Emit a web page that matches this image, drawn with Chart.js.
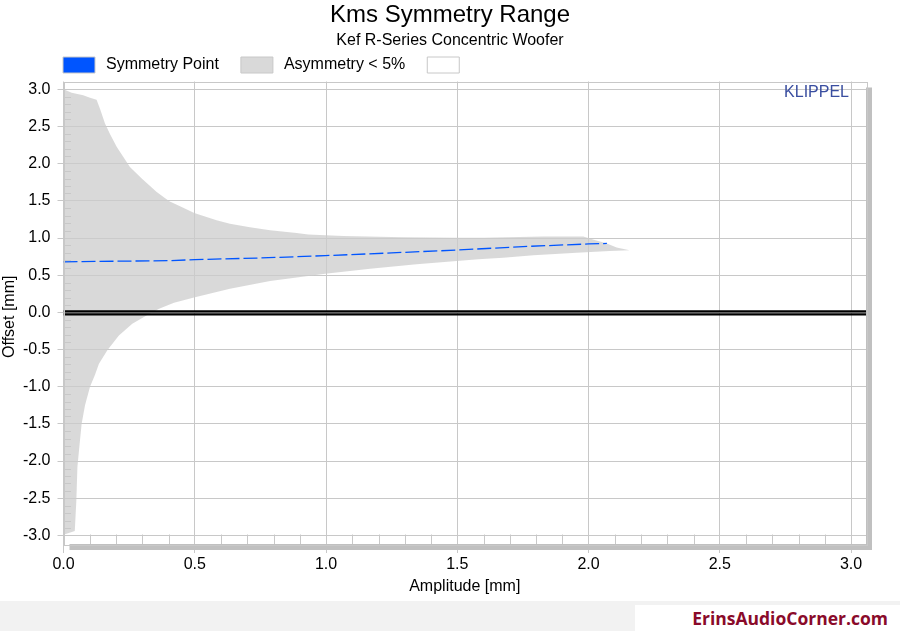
<!DOCTYPE html>
<html><head><meta charset="utf-8">
<style>
html,body{margin:0;padding:0;background:#fff;width:900px;height:631px;overflow:hidden}
canvas{position:absolute;left:0;top:0}
#band{position:absolute;left:0;top:601px;width:900px;height:30px;background:#f2f2f2}
#brand{position:absolute;left:635px;top:605px;width:265px;height:26px;background:#fff;color:#8a0a2a;font:bold 17.5px "Open Sans",sans-serif;text-align:right;box-sizing:border-box;padding-right:12px;line-height:26px}
</style></head><body>
<div id="band"></div><div id="brand">ErinsAudioCorner.com</div>
<canvas id="c" width="900" height="631"></canvas>
<script src="https://cdn.jsdelivr.net/npm/chart.js@4"></script>
<script>
const titleText='Kms Symmetry Range';
const subtitleText='Kef R-Series Concentric Woofer';
const xTitle='Amplitude [mm]';
const yTitle='Offset [mm]';
const watermark='KLIPPEL';
const legendNames=['Symmetry Point','Asymmetry < 5%',''];
const legendFills=['#0055ff','#d9d9d9','#ffffff'];
const upperAmp=[0,0.031,0.075,0.101,0.126,0.139,0.158,0.177,0.203,0.228,0.253,0.298,0.355,0.403,0.45,0.498,0.583,0.634,0.71,0.787,0.888,0.932,1.066,1.294,1.498,1.6,1.828,1.98,2.02,2.07,2.107,2.156];
const upperOffset=[3.0,2.955,2.92,2.888,2.86,2.74,2.54,2.4,2.224,2.09,1.955,1.8,1.62,1.493,1.417,1.336,1.238,1.193,1.145,1.103,1.066,1.049,1.027,1.009,1.005,1.005,1.022,1.022,0.978,0.927,0.874,0.834];
const lowerAmp=[2.08,1.955,1.79,1.675,1.58,1.498,1.345,1.168,0.997,0.932,0.787,0.634,0.497,0.421,0.364,0.313,0.262,0.211,0.167,0.135,0.12,0.101,0.082,0.069,0.059,0.053,0.049,0.045,0.043,0];
const lowerOffset=[0.825,0.803,0.767,0.736,0.713,0.69,0.646,0.588,0.52,0.488,0.421,0.319,0.2,0.13,0.05,-0.05,-0.152,-0.31,-0.511,-0.69,-0.838,-1.0,-1.25,-1.5,-1.857,-2.08,-2.53,-2.8,-2.94,-2.99];
const symAmp=[0,0.25,0.405,0.5,0.736,0.997,1.25,1.498,1.75,2.0,2.07];
const symOffset=[0.68,0.69,0.695,0.71,0.73,0.763,0.8,0.838,0.885,0.92,0.927];
const zeroAmp=[0,3.057];
const zeroUpper=[0.014,0.014];
const zeroLower=[-0.027,-0.027];
const minorY=[-2.9,-2.8,-2.7,-2.6,-2.4,-2.3,-2.2,-2.1,-1.9,-1.8,-1.7,-1.6,-1.4,-1.3,-1.2,-1.1,-0.9,-0.8,-0.7,-0.6,-0.4,-0.3,-0.2,-0.1,0.1,0.2,0.3,0.4,0.6,0.7,0.8,0.9,1.1,1.2,1.3,1.4,1.6,1.7,1.8,1.9,2.1,2.2,2.3,2.4,2.6,2.7,2.8,2.9];
const minorX=[0.1,0.2,0.3,0.4,0.6,0.7,0.8,0.9,1.1,1.2,1.3,1.4,1.6,1.7,1.8,1.9,2.1,2.2,2.3,2.4,2.6,2.7,2.8,2.9];
const pts=(a,b)=>a.map((x,i)=>({x,y:b[i]}));
const GRID='#c8c8c8',SHADOW='#c0c0c0',FONT='"Liberation Sans",Arial,sans-serif';

const deco={
 id:'deco',
 beforeLayout(c){
  const l=c.legend;
  if(l&&!l._wrapped){
   const o=l.fit;
   l.fit=function(){o.call(this);this.height=31.5;};
   const d=l.draw;
   l.draw=function(){
    const g=c.ctx,ft=g.fillText;
    g.fillText=function(t,x,y,m){return m===undefined?ft.call(g,t,x+3,y):ft.call(g,t,x+3,y,m);};
    d.apply(this,arguments);
    delete g.fillText;
   };
   l._wrapped=true;
  }
 },
 afterLayout(c){
  c.legend.left=38;c.legend.top=32;
  c.boxes.forEach(b=>{if(b!==c.legend&&b.options&&typeof b.options.text==='string'&&!b.axis){b.left=0;b.right=900;b.width=900;}});
  const ys=c.scales.y;
  if(!ys._shifted){
   const dt=ys.drawTitle;
   ys.drawTitle=function(){const g=c.ctx;g.save();g.translate(0,4);dt.apply(this,arguments);g.restore();};
   ys._shifted=true;
  }
 },
 beforeDatasetsDraw(c){
  const a=c.chartArea,g=c.ctx;
  g.save();g.fillStyle=SHADOW;
  g.fillRect(a.right,a.top+6,6,a.bottom-a.top);
  g.fillRect(a.left+6,a.bottom,a.right-a.left,6);
  g.restore();
 },
 afterDatasetsDraw(c){
  const a=c.chartArea,g=c.ctx,xs=c.scales.x,ys=c.scales.y;
  g.save();g.strokeStyle=GRID;g.lineWidth=1;
  g.beginPath();
  for(const v of minorY){
   const y=Math.round(ys.getPixelForValue(v))+0.5;
   g.moveTo(a.left,y);g.lineTo(a.left+7.5,y);
  }
  for(const v of minorX){
   const x=Math.round(xs.getPixelForValue(v))+0.5;
   g.moveTo(x,a.bottom);g.lineTo(x,a.bottom-9.5);
  }
  g.stroke();
  g.strokeRect(Math.round(a.left)+0.5,Math.round(a.top)+0.5,Math.round(a.right-a.left),Math.round(a.bottom-a.top));
  g.font='16px '+FONT;g.fillStyle='#3a4ea0';g.textAlign='right';g.textBaseline='middle';
  g.fillText(watermark,849,92.5);
  g.restore();
 }
};

new Chart(document.getElementById('c'),{
 type:'scatter',
 data:{datasets:[
  {label:legendNames[0],data:pts(symAmp,symOffset),showLine:true,borderColor:'#0055ff',backgroundColor:'#0055ff',borderWidth:1.3,borderDash:[14,4],pointRadius:0,order:1},
  {label:'zero a',data:pts(zeroAmp,zeroUpper),showLine:true,borderColor:'#000',borderWidth:2.3,pointRadius:0,order:2},
  {label:'zero b',data:pts(zeroAmp,zeroLower),showLine:true,borderColor:'#000',borderWidth:2.3,pointRadius:0,order:2},
  {label:legendNames[1],data:pts(upperAmp.concat(lowerAmp),upperOffset.concat(lowerOffset)),showLine:true,borderWidth:0,borderColor:'rgba(0,0,0,0)',backgroundColor:'rgba(204,204,204,0.745)',fill:'shape',pointRadius:0,order:3},
  {label:legendNames[2],data:[],backgroundColor:'#fff',borderColor:GRID,order:4}
 ]},
 options:{
  responsive:false,animation:false,devicePixelRatio:1,
  layout:{padding:{left:0,right:34,top:0,bottom:0}},
  plugins:{
   tooltip:{enabled:false},
   title:{display:true,text:titleText,color:'#000',font:{family:FONT,size:24,weight:'normal'},padding:{top:1,bottom:0}},
   subtitle:{display:true,text:subtitleText,color:'#000',font:{family:FONT,size:16,weight:'normal'},padding:{top:1,bottom:0}},
   legend:{display:true,position:'top',align:'start',
    labels:{boxWidth:32,boxHeight:16,padding:25,color:'#000',font:{family:FONT,size:16},
     generateLabels(c){
      return [0,3,4].map((i,k)=>({text:legendNames[k],fillStyle:legendFills[k],strokeStyle:GRID,lineWidth:1,hidden:false,datasetIndex:i}));
     }}}
  },
  scales:{
   x:{type:'linear',min:0,max:3.057,
    afterFit(s){s.height=87;},
    title:{display:true,text:xTitle,color:'#000',font:{family:FONT,size:16},padding:{top:2,bottom:35}},
    border:{display:false},
    grid:{color:GRID,lineWidth:1,tickLength:9,tickColor:GRID},
    ticks:{stepSize:0.5,includeBounds:false,maxRotation:0,color:'#000',padding:2,font:{family:FONT,size:16},callback:v=>v.toFixed(1)}},
   y:{type:'linear',min:-3.115,max:3.105,
    afterFit(s){s.width=63.5;},
    title:{display:true,text:yTitle,color:'#000',font:{family:FONT,size:16},padding:{top:0,bottom:0}},
    border:{display:false},
    grid:{color:GRID,lineWidth:1,tickLength:6,tickColor:GRID},
    ticks:{stepSize:0.5,includeBounds:false,color:'#000',padding:7,font:{family:FONT,size:16},callback:v=>v.toFixed(1)}}
  }
 },
 plugins:[deco]
});
</script></body></html>
